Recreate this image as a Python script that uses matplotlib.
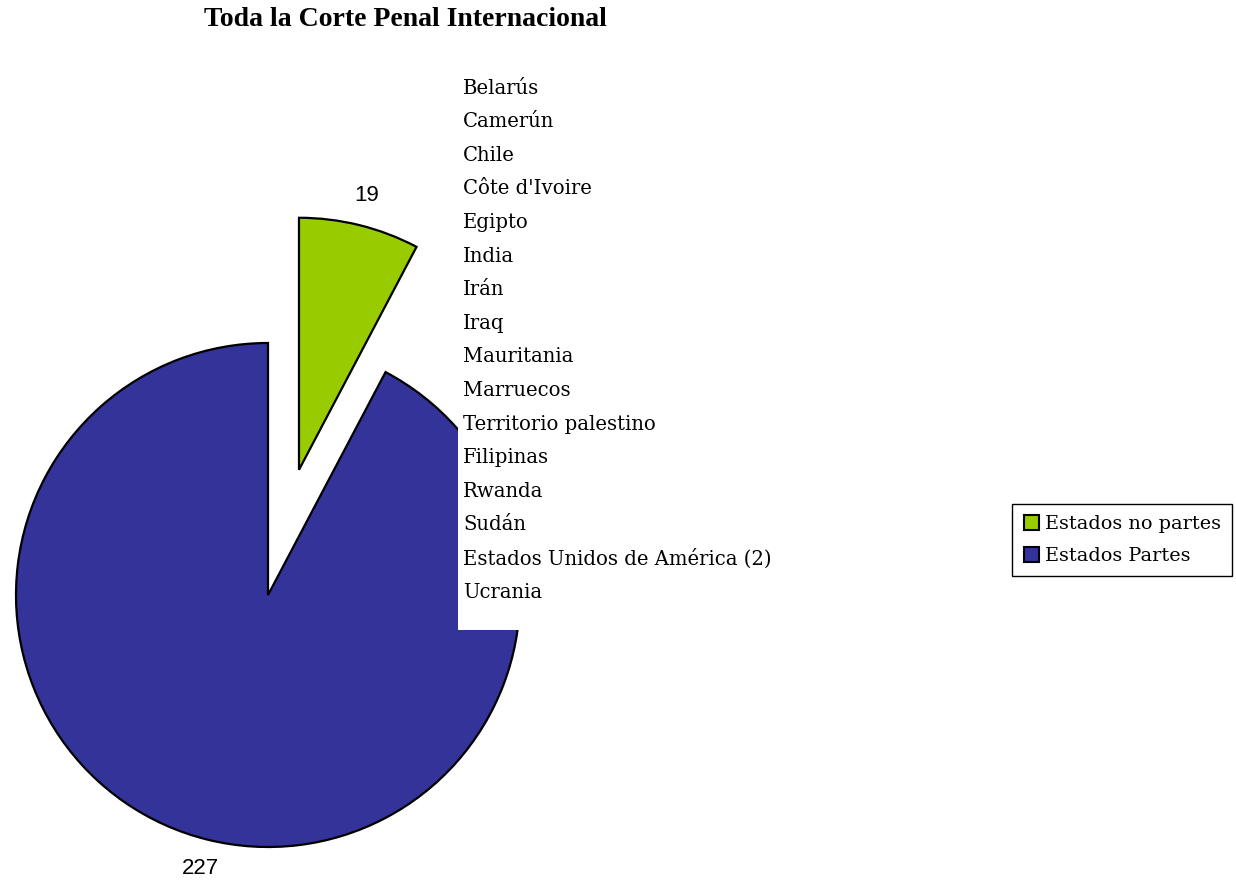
import matplotlib.pyplot as plt
from matplotlib.patches import Rectangle, Patch

# data
labels = ["Estados no partes", "Estados Partes"]
values = [19, 227]
colors = ["#99CC00", "#333399"]
countries = ["Belarús", "Camerún", "Chile", "Côte d'Ivoire", "Egipto", "India",
             "Irán", "Iraq", "Mauritania", "Marruecos", "Territorio palestino",
             "Filipinas", "Rwanda", "Sudán", "Estados Unidos de América (2)", "Ucrania"]

W, H = 1236, 883
fig = plt.figure(figsize=(W / 100, H / 100), dpi=100)
ax = fig.add_axes([0, 0, 1, 1])

wedges, texts = ax.pie(values, colors=colors, radius=252, center=(268, H - 595),
                       startangle=90, counterclock=False, explode=[129, 0],
                       labels=[str(v) for v in values], labeldistance=1.12,
                       wedgeprops=dict(edgecolor="black", linewidth=1.6))
for t in texts:
    t.set_fontfamily("Liberation Sans")
    t.set_fontsize(16)
    t.set_horizontalalignment("center")
    t.set_verticalalignment("center")

ax.set_xlim(0, W)
ax.set_ylim(0, H)
ax.set_aspect("equal")
ax.axis("off")

# white box with the list of non-party states
ax.add_patch(Rectangle((458, H - 630), 320, 570, facecolor="white",
                       edgecolor="none", zorder=3))
for i, name in enumerate(countries):
    ax.text(463, H - 88 - i * 33.6, name, fontsize=14.1, family="DejaVu Serif",
            va="center", ha="left", zorder=4)

ax.text(405, H - 20, "Toda la Corte Penal Internacional", fontsize=20,
        family="Liberation Serif", weight="bold", ha="center", va="center")

handles = [Patch(facecolor=c, edgecolor="black", linewidth=1.5) for c in colors]
leg = fig.legend(handles, labels, loc="center left",
                 bbox_to_anchor=(1012 / W, (H - 540) / H),
                 prop=dict(family="DejaVu Serif", size=13.9),
                 handlelength=0.8, handleheight=0.8, handletextpad=0.3,
                 borderpad=0.6, labelspacing=0.7, borderaxespad=0,
                 fancybox=False, framealpha=1)
leg.get_frame().set_edgecolor("black")
leg.get_frame().set_linewidth(1)

fig.savefig("out.png", dpi=100)
